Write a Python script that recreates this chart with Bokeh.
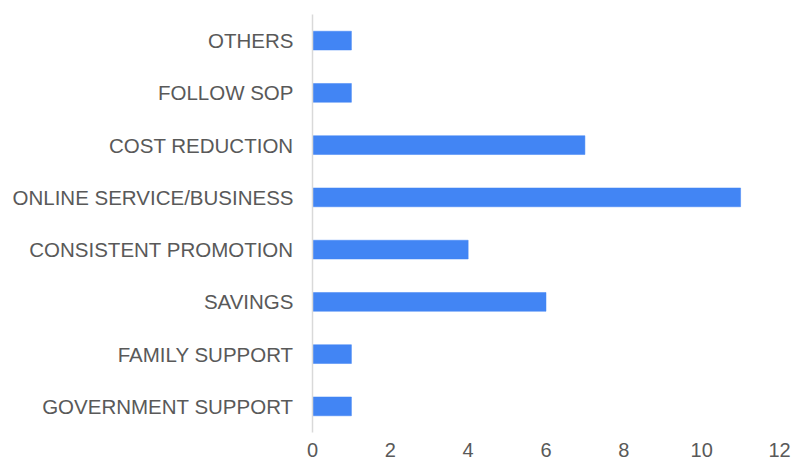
from bokeh.plotting import figure
from bokeh.models import ColumnDataSource, FactorRange, Range1d, FixedTicker
from bokeh.embed import file_html
from bokeh.resources import INLINE

categories = ["GOVERNMENT SUPPORT", "FAMILY SUPPORT", "SAVINGS", "CONSISTENT PROMOTION",
              "ONLINE SERVICE/BUSINESS", "COST REDUCTION", "FOLLOW SOP", "OTHERS"]
values = [1, 1, 6, 4, 11, 7, 1, 1]
x_ticks = [0, 2, 4, 6, 8, 10, 12]

src = ColumnDataSource(dict(cat=categories, val=values))

p = figure(width=793, height=463, output_backend="svg", toolbar_location=None,
           y_range=FactorRange(*categories, range_padding=0),
           x_range=Range1d(0, 12),
           min_border_left=312, min_border_right=14, min_border_top=14, min_border_bottom=31)

p.hbar(y="cat", right="val", left=0, height=0.36, source=src,
       fill_color="#4285f4", line_color="#4285f4", line_width=0.5)

p.outline_line_color = None
p.xgrid.grid_line_color = None
p.ygrid.grid_line_color = None
p.background_fill_color = "white"
p.border_fill_color = "white"

font = "Liberation Sans"
p.yaxis.axis_line_color = "#d9d9d9"
p.yaxis.axis_line_width = 1.5
p.yaxis.major_tick_line_color = None
p.yaxis.minor_tick_line_color = None
p.yaxis.major_tick_out = 0
p.yaxis.major_label_standoff = 19
p.yaxis.major_label_text_font = font
p.yaxis.major_label_text_font_size = "20.5px"
p.yaxis.major_label_text_color = "#595959"

p.xaxis.ticker = FixedTicker(ticks=x_ticks)
p.xaxis.axis_line_color = None
p.xaxis.major_tick_line_color = None
p.xaxis.minor_tick_line_color = None
p.xaxis.major_tick_out = 0
p.xaxis.major_label_standoff = 10
p.xaxis.major_label_text_font = font
p.xaxis.major_label_text_font_size = "20px"
p.xaxis.major_label_text_color = "#595959"

open("out.html", "w").write(file_html(p, INLINE))
